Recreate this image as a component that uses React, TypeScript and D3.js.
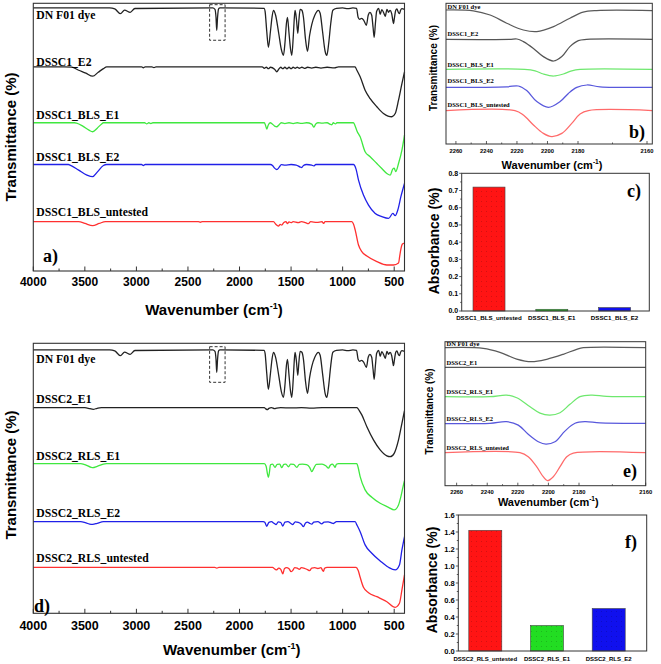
import React from "react";
import * as d3 from "d3";

type P = [number, number];

// ---------- Panel a / d : full FTIR spectra (wavenumber, arbitrary offset transmittance) ----------
const DYE: P[] = [[4000,131.7],[3260,131.7],[3210,131.2],[3155,128.8],[3115,130.6],[3060,129.5],[3015,131.4],[2260,131.7],[2238,131],[2228,127],[2221,120.5],[2213,127],[2203,131.2],[2190,131.7],[1760,131.5],[1752,130],[1736,120],[1720,112],[1700,120],[1685,127],[1671,130.5],[1650,128],[1620,119],[1595,111],[1574,108],[1558,115],[1545,124],[1535,127],[1520,119],[1505,111],[1493,108],[1478,118],[1468,127],[1461,130.5],[1448,126],[1435,119],[1425,125],[1412,131],[1395,130.5],[1380,127],[1360,116],[1341,110],[1320,118],[1299,123.5],[1270,128],[1235,130.5],[1218,129],[1195,120],[1170,110],[1153,108],[1135,114],[1115,124],[1095,130.5],[1060,131.5],[1000,131.7],[950,131.3],[900,131.7],[865,131.5],[850,127],[835,126],[815,126.5],[795,125.5],[770,123],[752,128],[735,129.5],[718,128],[705,122],[694,117],[682,124],[670,130],[650,131.5],[636,128.5],[620,130.8],[600,129],[587,127.5],[570,131],[555,129.5],[540,130.5],[525,129],[515,126],[507,123.8],[497,127],[485,130.5],[474,131.2],[460,129.5],[449,128.8],[438,130.5],[425,131.3],[400,131]];

const DSSC1_E2: P[] = [[4000,102.2],[3700,102.2],[3627,102],[3560,100.5],[3490,99],[3424,97.5],[3370,99.5],[3320,101.3],[3288,102.2],[2950,102.2],[2933,101.7],[2915,102.2],[2850,102.2],[2830,101.8],[2810,102.2],[1780,102.2],[1760,101.5],[1740,102],[1720,101.3],[1700,102],[1660,101],[1638,99.7],[1620,101],[1600,102],[1580,101.3],[1560,102],[1540,101.2],[1520,102],[1500,101.3],[1480,102],[1460,101.5],[1440,102],[1420,101.5],[1395,102],[1370,101.4],[1340,102],[1300,101.6],[1260,102],[1210,101.6],[1150,102],[1080,101.7],[1040,102.2],[880,102.2],[862,100.5],[830,97.2],[782,90.5],[733,86.3],[668,82.2],[604,78.8],[560,77.5],[522,77.2],[490,78.8],[458,85.5],[425,93.8],[400,99.7]];

const DSSC1_BLS_E1: P[] = [[4000,74.2],[3600,74.2],[3580,74],[3520,72.5],[3460,70.5],[3424,69.7],[3380,71.5],[3340,73.5],[3320,74.2],[2920,74.2],[2900,73.6],[2880,74.2],[2860,73.8],[2840,74.2],[1760,74.2],[1748,73],[1736,71],[1722,73],[1703,74.2],[1680,73.5],[1655,72.4],[1638,72.2],[1620,73],[1595,74.2],[1560,73.8],[1520,74.2],[1480,73.8],[1440,74.2],[1400,73.9],[1350,74.2],[1300,73.5],[1278,72],[1262,73.5],[1240,74.2],[1200,74],[1150,74.2],[1120,73.4],[1105,73.2],[1090,74.2],[1070,73.6],[1055,74.2],[895,74.2],[878,72.5],[860,70],[830,67.2],[782,59.7],[733,57.2],[668,53.8],[620,51.3],[571,48.8],[539,48],[514,51],[500,51.5],[485,49.7],[458,53.8],[425,60.5],[400,68]];

const DSSC1_BLS_E2: P[] = [[4000,53.3],[3660,53.3],[3644,53],[3560,50.5],[3480,48],[3424,47.2],[3380,49.5],[3320,52.8],[3288,53.3],[2950,53.3],[2933,52.8],[2915,53.3],[1700,53.3],[1680,52.8],[1660,51.5],[1638,50.8],[1615,52],[1595,53.2],[1560,53],[1500,53.3],[1450,53],[1410,52],[1397,51.8],[1380,52.8],[1350,53.3],[1300,53],[1280,52.6],[1260,53.3],[895,53.3],[870,51],[846,45.5],[798,38],[749,33],[684,28.8],[620,27.2],[555,26.3],[513,28.8],[490,27.7],[465,30.5],[435,37.2],[400,43.8]];

const DSSC1_BLS_UNTESTED: P[] = [[4000,24.7],[3560,24.7],[3500,23.8],[3424,22.7],[3360,23.8],[3300,24.7],[2400,24.7],[2380,24.4],[2360,24.7],[1670,24.7],[1650,23.5],[1623,22.5],[1605,23.3],[1590,23],[1570,24.3],[1550,24.7],[1535,23.7],[1520,24.6],[1500,24.2],[1480,24.7],[1430,24.2],[1400,24.7],[1360,24.2],[1332,23.7],[1310,24.7],[1250,24.3],[1200,24.7],[1186,23.8],[1170,24.7],[911,24.7],[895,23.5],[878,20.5],[846,13],[814,9.7],[765,7.5],[668,4.7],[571,3],[507,3],[458,4],[445,8],[435,11],[420,13.5],[400,14]];

const DSSC2_E1: P[] = [[4000,102.8],[3500,102.8],[3450,102.3],[3420,102],[3380,102.5],[3340,102.8],[1760,102.8],[1745,102.2],[1730,101.8],[1715,102.5],[1690,102.8],[1660,102.3],[1640,102.6],[1600,102.8],[1500,102.7],[1400,102.8],[1300,102.6],[1200,102.8],[862,102.8],[840,101.5],[814,99.2],[765,93.3],[701,86.7],[636,81.7],[571,78.7],[539,78.3],[500,80],[458,86.7],[425,95],[400,101.3]];

const DSSC2_RLS_E1: P[] = [[4000,74.8],[3540,74.8],[3500,74.3],[3440,73],[3424,72.8],[3380,73.5],[3320,74.6],[3290,74.8],[1760,74.8],[1742,73.5],[1730,70],[1720,68],[1710,70.5],[1700,74.3],[1680,74.6],[1655,73],[1635,74.5],[1610,74.6],[1590,72.8],[1570,74.5],[1550,74.6],[1525,73.2],[1505,74.6],[1475,74.5],[1444,73],[1420,74.5],[1390,74.6],[1350,74.3],[1320,73],[1299,70.8],[1280,72.5],[1255,74.5],[1200,74.6],[1160,73.6],[1138,72.6],[1120,74],[1100,74.6],[1085,73.8],[1073,73],[1060,74.5],[1040,74.8],[862,74.8],[850,73],[830,68.3],[782,61.7],[717,58],[636,55],[555,53],[500,51.7],[458,54.2],[435,58.3],[414,63.3],[400,66.3]];

const DSSC2_RLS_E2: P[] = [[4000,45.8],[3540,45.8],[3490,45.2],[3440,44.5],[3424,44.5],[3380,45],[3320,45.8],[1770,45.8],[1755,45.5],[1736,43.5],[1715,45.5],[1690,45.8],[1665,45],[1645,44.4],[1625,45.7],[1600,45.4],[1580,43.6],[1560,45.6],[1530,45.8],[1505,45],[1483,44.4],[1460,45.7],[1430,45.5],[1400,44.5],[1380,43.3],[1360,45.2],[1340,45.6],[1320,45],[1299,44.6],[1280,45.6],[1240,45.8],[1202,44.7],[1180,45.6],[1140,45.7],[1110,45.2],[1089,44.9],[1060,45.8],[879,45.8],[860,44],[830,40.8],[782,34.2],[717,30],[636,26.2],[555,23],[490,21.7],[449,24.2],[425,31.7],[400,38.3]];

const DSSC2_RLS_UNTESTED: P[] = [[4000,23],[2240,23],[2220,22.6],[2200,23],[1680,23],[1655,22],[1640,21.7],[1620,22.6],[1600,22],[1580,19.7],[1565,22.3],[1545,22.8],[1520,22.3],[1500,20.8],[1483,21.5],[1465,22.8],[1440,22.6],[1420,22],[1400,22.8],[1370,22.5],[1340,21.8],[1320,21.3],[1300,22.6],[1270,22.8],[1240,22.4],[1210,22.8],[1195,21.5],[1186,21],[1175,22.5],[1150,23],[870,23],[850,21.5],[830,18],[798,13],[749,10.3],[668,8.3],[571,5.8],[490,3],[449,5],[425,11.7],[400,19.2]];

// ---------- Panel b / e : C≡N region insets ----------
const B_DYE: P[] = [[2266.5,67],[2248.6,66.6],[2237.6,64.5],[2226.7,60.4],[2215.8,57],[2207,56.2],[2196,58.7],[2185.3,62.9],[2178.5,65.9],[2174.6,66.7],[2158.5,66.7]];
const B_E2: P[] = [[2266.5,52.3],[2225,52.3],[2220,52.5],[2215.8,51.2],[2209.2,47.8],[2202.7,43.7],[2196,41.5],[2190.6,43.7],[2185.3,48.7],[2179.9,51.7],[2177.5,52.3],[2158.5,52.3]];
const B_BLS_E1: P[] = [[2266.5,37.3],[2215,37.3],[2208.1,36.6],[2202.7,35],[2196,34],[2189.6,35],[2184.1,36.6],[2179.4,37.3],[2158.5,37.3]];
const B_BLS_E2: P[] = [[2266.5,28.3],[2226.7,28.6],[2219.1,29],[2213.6,26.7],[2207,21.2],[2199.4,18.3],[2191.7,21.2],[2186.3,25.3],[2180.8,28.3],[2177.4,29.5],[2173.6,28.6],[2158.5,28.3]];
const B_BLS_UNTESTED: P[] = [[2266.5,16.7],[2221.3,16.7],[2215.8,14.5],[2209.2,9.5],[2202.7,5.3],[2197.2,3.7],[2190.6,5.3],[2184.1,10.3],[2179.4,15],[2177,16.7],[2158.5,16.7]];

const E_DYE: P[] = [[2267.6,69],[2242.6,68.7],[2231.7,66.7],[2220.7,63.3],[2211,62],[2201.1,63.2],[2190.3,65.7],[2181.5,68.2],[2178.7,69],[2160,69]];
const E_E1: P[] = [[2267.6,59.2],[2220,59.2],[2160,59.2]];
const E_RLS_E1: P[] = [[2267.6,44.5],[2238.2,44.5],[2227.3,45.3],[2220.7,44],[2212,39.5],[2205.5,36.3],[2199,35.3],[2192.4,36.5],[2185.9,40.7],[2179.7,44.5],[2176.2,45.3],[2171.7,44.7],[2160,44.5]];
const E_RLS_E2: P[] = [[2267.6,31],[2238.2,31.2],[2227.3,32],[2219.7,30.3],[2213.2,25.7],[2206.6,22],[2201.6,20.8],[2195.7,22],[2189.2,27.3],[2182.6,31.2],[2178.2,32],[2173.7,31.4],[2160,31.2]];
const E_RLS_UNTESTED: P[] = [[2267.6,16.5],[2218.6,16.5],[2213.2,14.5],[2207.7,9.5],[2203.4,4.5],[2200.7,2.5],[2196.8,4.5],[2192.4,9.5],[2188,14.5],[2183.7,16.3],[2160,16.5]];

// ---------- Panel c / f : absorbance bars ----------
const C_CATS = ["DSSC1_BLS_untested", "DSSC1_BLS_E1", "DSSC1_BLS_E2"];
const C_VALUES = [0.72, 0.01, 0.02];
const F_CATS = ["DSSC2_RLS_untested", "DSSC2_RLS_E1", "DSSC2_RLS_E2"];
const F_VALUES = [1.42, 0.3, 0.5];

const LABELS_1 = ["DN F01 dye", "DSSC1_E2", "DSSC1_BLS_E1", "DSSC1_BLS_E2", "DSSC1_BLS_untested"];
const LABELS_2 = ["DN F01 dye", "DSSC2_E1", "DSSC2_RLS_E1", "DSSC2_RLS_E2", "DSSC2_RLS_untested"];
const WN_TICKS = [4000, 3500, 3000, 2500, 2000, 1500, 1000, 500];
const WN_MINOR = [3750, 3250, 2750, 2250, 1750, 1250, 750];
const INSET_TICKS = [2260, 2240, 2220, 2200, 2180, 2160];
const INSET_MINOR = [2250, 2230, 2210, 2190, 2170];
const C_TICKS = [0, 0.1, 0.2, 0.3, 0.4, 0.5, 0.6, 0.7, 0.8];
const F_TICKS = [0, 0.2, 0.4, 0.6, 0.8, 1.0, 1.2, 1.4, 1.6];

const SERIF = "'Liberation Serif', 'Times New Roman', serif";
const SANS = "'Liberation Sans', Arial, sans-serif";
const FRAME = "#333";

const MAIN_COLORS = ["#222", "#222", "#3fe83f", "#2020e8", "#ff3030"];
const INSET_COLORS = ["#5a5a5a", "#555", "#6ee86e", "#5858dc", "#ff6a6a"];
const BAR_COLORS = ["#ff1414", "#22dd22", "#1010ee"];

function path(x: any, y: any, data: P[], curve: any) {
  return d3.line<P>().x((d) => x(d[0])).y((d) => y(d[1])).curve(curve)(data) || "";
}

function WnTitle({ x, y, size }: { x: number; y: number; size: number }) {
  return (
    <text x={x} y={y} textAnchor="middle" fontFamily={SANS} fontWeight="bold" fontSize={size}>
      Wavenumber (cm
      <tspan dy={-size * 0.42} fontSize={size * 0.6}>-1</tspan>
      <tspan dy={size * 0.42}>)</tspan>
    </text>
  );
}

function YTitle({ x, y, size, text }: { x: number; y: number; size: number; text: string }) {
  return (
    <text transform={`translate(${x},${y}) rotate(-90)`} textAnchor="middle" fontFamily={SANS} fontWeight="bold" fontSize={size}>
      {text}
    </text>
  );
}

function MainPanel(props: any) {
  const { x, y, series, labels, labelYs, tag, tagX, tagY, tickBase, tickSize, titleX, titleY, yTitleY, box } = props;
  const [x0, x1] = x.range();
  const [y1, y0] = y.range();
  return (
    <g>
      {series.map((s: P[], i: number) => (
        <path key={i} d={path(x, y, s, d3.curveMonotoneX)} fill="none" stroke={MAIN_COLORS[i]} strokeWidth={1.3} />
      ))}
      <rect x={x(box[0])} y={y(box[2])} width={x(box[1]) - x(box[0])} height={y(box[3]) - y(box[2])} fill="none" stroke="#333" strokeWidth={1} strokeDasharray="3,2" />
      <rect x={x0} y={y0} width={x1 - x0} height={y1 - y0} fill="none" stroke={FRAME} strokeWidth={1.1} />
      {WN_TICKS.map((t) => (
        <line key={"M" + t} x1={x(t)} x2={x(t)} y1={y1} y2={y1 - 4.5} stroke={FRAME} strokeWidth={1} />
      ))}
      {WN_MINOR.map((t) => (
        <line key={"m" + t} x1={x(t)} x2={x(t)} y1={y1} y2={y1 - 2.5} stroke={FRAME} strokeWidth={1} />
      ))}
      {WN_TICKS.map((t) => (
        <text key={"L" + t} x={x(t)} y={tickBase} textAnchor="middle" fontFamily={SANS} fontWeight="bold" fontSize={tickSize}>
          {t}
        </text>
      ))}
      {labels.map((l: string, i: number) => (
        <text key={l} x={x0 + 3} y={labelYs[i]} fontFamily={SERIF} fontWeight="bold" fontSize={11.7}>
          {l}
        </text>
      ))}
      <text x={tagX} y={tagY} fontFamily={SERIF} fontWeight="bold" fontSize={18}>
        {tag}
      </text>
      <WnTitle x={titleX} y={titleY} size={15} />
      <YTitle x={16} y={yTitleY} size={15} text="Transmittance (%)" />
    </g>
  );
}

function InsetPanel(props: any) {
  const { x, y, series, labels, labelYs, tag, tagX, tagY, tickBase, titleX, titleY, yTitleX, yTitleY } = props;
  const r = x.range();
  const x0 = r[0];
  const x1 = r[r.length - 1];
  const [y1, y0] = y.range();
  return (
    <g>
      {series.map((s: P[], i: number) => (
        <path key={i} d={path(x, y, s, d3.curveCatmullRom)} fill="none" stroke={INSET_COLORS[i]} strokeWidth={1.25} />
      ))}
      <rect x={x0} y={y0} width={x1 - x0} height={y1 - y0} fill="none" stroke={FRAME} strokeWidth={1} />
      {INSET_TICKS.map((t) => (
        <line key={"M" + t} x1={x(t)} x2={x(t)} y1={y1} y2={y1 - 3} stroke={FRAME} strokeWidth={0.8} />
      ))}
      {INSET_MINOR.map((t) => (
        <line key={"m" + t} x1={x(t)} x2={x(t)} y1={y1} y2={y1 - 1.5} stroke={FRAME} strokeWidth={0.8} />
      ))}
      {INSET_TICKS.map((t) => (
        <text key={"L" + t} x={x(t)} y={tickBase} textAnchor="middle" fontFamily={SANS} fontWeight="bold" fontSize={5.8}>
          {t}
        </text>
      ))}
      {labels.map((l: string, i: number) => (
        <text key={l} x={x0 + 1.5} y={labelYs[i]} fontFamily={SERIF} fontWeight="bold" fontSize={6.5}>
          {l}
        </text>
      ))}
      <text x={tagX} y={tagY} fontFamily={SERIF} fontWeight="bold" fontSize={18}>
        {tag}
      </text>
      <WnTitle x={titleX} y={titleY} size={11} />
      <YTitle x={yTitleX} y={yTitleY} size={10} text="Transmittance (%)" />
    </g>
  );
}

function BarPanel(props: any) {
  const { cats, values, x, y, frameX, ticks, tickSize, tag, tagX, tagY, catBase, catSize, yTitleX, yTitleY } = props;
  const [x0, x1] = frameX;
  const [y1, y0] = y.range();
  const fmt = d3.format(".1f");
  const minor = ticks.slice(0, -1).map((t: number, i: number) => (t + ticks[i + 1]) / 2);
  return (
    <g>
      {cats.map((c: string, i: number) => (
        <g key={c}>
          <rect x={x(c)} y={y(values[i])} width={x.bandwidth()} height={y(0) - y(values[i])} fill={BAR_COLORS[i]} stroke="#444" strokeWidth={0.6} />
          <rect x={x(c)} y={y(values[i])} width={x.bandwidth()} height={y(0) - y(values[i])} fill="url(#dots)" />
        </g>
      ))}
      <rect x={x0} y={y0} width={x1 - x0} height={y1 - y0} fill="none" stroke={FRAME} strokeWidth={1} />
      {ticks.map((t: number) => (
        <g key={t}>
          <line x1={x0} x2={x0 - 2.5} y1={y(t)} y2={y(t)} stroke={FRAME} strokeWidth={0.8} />
          <text x={x0 - 3.5} y={y(t)} dy="0.35em" textAnchor="end" fontFamily={SANS} fontWeight="bold" fontSize={tickSize}>
            {fmt(t)}
          </text>
        </g>
      ))}
      {minor.map((t: number) => (
        <line key={"m" + t} x1={x0} x2={x0 - 1.5} y1={y(t)} y2={y(t)} stroke={FRAME} strokeWidth={0.8} />
      ))}
      {cats.map((c: string) => (
        <text key={"c" + c} x={(x(c) as number) + x.bandwidth() / 2} y={catBase} textAnchor="middle" fontFamily={SANS} fontWeight="bold" fontSize={catSize}>
          {c}
        </text>
      ))}
      <text x={tagX} y={tagY} fontFamily={SERIF} fontWeight="bold" fontSize={18}>
        {tag}
      </text>
      <YTitle x={yTitleX} y={yTitleY} size={14} text="Absorbance (%)" />
    </g>
  );
}

export default function App() {
  const xMain = d3.scaleLinear().domain([4000, 400]).range([33.3, 404.5]);
  const yA = d3.scaleLinear().domain([0, 134]).range([271, 3.3]);
  const yD = d3.scaleLinear().domain([0, 135]).range([613.3, 343.3]);

  const xB = d3.scaleLinear().domain([2266.5, 2180, 2160, 2158.5]).range([446, 578, 647, 652.3]);
  const yB = d3.scaleLinear().domain([0, 70.35]).range([144, 3.3]);
  const xE = d3.scaleLinear().domain([2267.6, 2180, 2160]).range([445, 579, 645.7]);
  const yE = d3.scaleLinear().domain([0, 72]).range([485.7, 341.7]);

  const xC = d3.scaleBand<string>().domain(C_CATS).range([461.7, 641.9]).paddingInner(0.49).paddingOuter(0.18);
  const yC = d3.scaleLinear().domain([0, 0.8]).range([311, 173.3]);
  const xF = d3.scaleBand<string>().domain(F_CATS).range([458.3, 635.7]).paddingInner(0.465).paddingOuter(0.17);
  const yF = d3.scaleLinear().domain([0, 1.6]).range([651, 515]);

  const BOX = [2290, 2140, 133.3, 115.5];

  return (
    <svg width={661} height={664} style={{ position: "absolute", left: 0, top: 0, background: "#fff" }}>
      <defs>
        <pattern id="dots" width="5" height="5" patternUnits="userSpaceOnUse">
          <circle cx="1.5" cy="1.5" r="0.45" fill="rgba(0,0,0,0.35)" />
        </pattern>
      </defs>
      <rect width={661} height={664} fill="#fff" />
      <MainPanel
        x={xMain}
        y={yA}
        series={[DYE, DSSC1_E2, DSSC1_BLS_E1, DSSC1_BLS_E2, DSSC1_BLS_UNTESTED]}
        labels={LABELS_1}
        labelYs={[19.3, 65.7, 119.3, 160.7, 216]}
        tag="a)"
        tagX={43}
        tagY={262}
        tickBase={285.5}
        tickSize={12}
        titleX={214}
        titleY={315}
        yTitleY={137}
        box={BOX}
      />
      <MainPanel
        x={xMain}
        y={yD}
        series={[DYE, DSSC2_E1, DSSC2_RLS_E1, DSSC2_RLS_E2, DSSC2_RLS_UNTESTED]}
        labels={LABELS_2}
        labelYs={[363.3, 403.3, 460, 516.7, 561.7]}
        tag="d)"
        tagX={34}
        tagY={611.5}
        tickBase={629.5}
        tickSize={12.5}
        titleX={231.7}
        titleY={655}
        yTitleY={475}
        box={BOX}
      />
      <InsetPanel
        x={xB}
        y={yB}
        series={[B_DYE, B_E2, B_BLS_E1, B_BLS_E2, B_BLS_UNTESTED]}
        labels={LABELS_1}
        labelYs={[9, 36, 66.7, 83.3, 107.3]}
        tag="b)"
        tagX={629}
        tagY={138}
        tickBase={153}
        titleX={552}
        titleY={169}
        yTitleX={437}
        yTitleY={68}
      />
      <InsetPanel
        x={xE}
        y={yE}
        series={[E_DYE, E_E1, E_RLS_E1, E_RLS_E2, E_RLS_UNTESTED]}
        labels={LABELS_2}
        labelYs={[346, 365, 394.3, 421, 450]}
        tag="e)"
        tagX={623}
        tagY={477}
        tickBase={493.5}
        titleX={548.3}
        titleY={506}
        yTitleX={433}
        yTitleY={411.5}
      />
      <BarPanel cats={C_CATS} values={C_VALUES} x={xC} y={yC} frameX={[461.7, 649.3]} ticks={C_TICKS} tickSize={7} tag="c)" tagX={627} tagY={197} catBase={319.5} catSize={6.2} yTitleX={439} yTitleY={241} />
      <BarPanel cats={F_CATS} values={F_VALUES} x={xF} y={yF} frameX={[458.3, 646.7]} ticks={F_TICKS} tickSize={7.5} tag="f)" tagX={625} tagY={547.5} catBase={661} catSize={6} yTitleX={437} yTitleY={580} />
    </svg>
  );
}
